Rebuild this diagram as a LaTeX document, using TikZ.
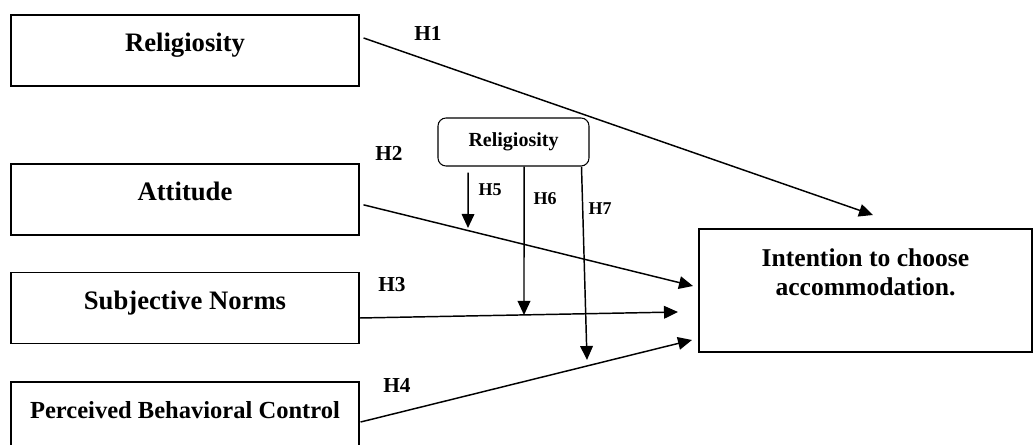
\documentclass[tikz,border=0pt]{standalone}
\usepackage{fontspec}
\setmainfont{Liberation Serif}
\usetikzlibrary{arrows.meta}

\tikzset{
  factor/.style={draw, line width=0.8pt, minimum width=261pt, minimum height=53.25pt,
    inner sep=0pt, font=\bfseries\fontsize{20}{24}\selectfont, text height=14pt, text depth=12pt},
  moder/.style={draw, line width=0.8pt, rounded corners=6pt, minimum width=113.25pt,
    minimum height=36pt, font=\bfseries\fontsize{15}{18}\selectfont},
  hyp/.style={font=\bfseries\fontsize{16}{19}\selectfont},
  hypsmall/.style={font=\bfseries\fontsize{13.5}{16}\selectfont},
  arr/.style={-{Triangle[length=10.5pt,width=9.5pt]}, line width=1.1pt}
}

\begin{document}
\begin{tikzpicture}[x=0.75pt,y=-0.75pt]
\useasboundingbox (0,0) rectangle (1033,445);

% Left-hand boxes
\node[factor] (rel) at (185,50.5) {Religiosity};
\node[factor] (att) at (185,199.5) {Attitude};
\node[factor] (sn) at (185,308) {Subjective Norms};
\node[factor, font=\bfseries\fontsize{18.4}{22}\selectfont] (pbc) at (185,417.5) {Perceived Behavioral Control};

% Outcome box
\node[draw, line width=0.8pt, minimum width=249.75pt, minimum height=92.25pt] (int) at (865.5,290.5) {};
\node[font=\bfseries\fontsize{19.2}{22}\selectfont, align=center] (inttext) at (865.5,272.5) {Intention to choose\\accommodation.};

% Moderator
\node[moder] (mod) at (513.5,142) {Religiosity};

% arrow ends
\coordinate (t1) at (873,215);
\coordinate (t2) at (693,286);
\coordinate (t3) at (678,312);
\coordinate (t4) at (692,340);
\coordinate (t5) at (468,228);
\coordinate (t6) at (524,315);
\coordinate (t7) at (587,360);

% direct paths
\draw[arr] ([xshift=3pt,yshift=9.4pt]rel.east) -- (t1);
\draw[arr] ([xshift=3pt,yshift=-4pt]att.east) -- (t2);
\draw[arr] ([yshift=-7.5pt]sn.east) -- (t3);
\draw[arr] ([xshift=0.75pt,yshift=-3.4pt]pbc.east) -- (t4);

% moderating paths
\draw[arr] ([xshift=-34pt,yshift=-4.5pt]mod.south) -- (t5);
\draw[arr] ([xshift=7.9pt]mod.south) -- (t6);
\draw[arr] ([xshift=51pt]mod.south) -- (t7);

% hypothesis labels
\node[hyp] (h1) at (428,33) {H1};
\node[hyp] (h2) at (389,153) {H2};
\node[hyp] (h3) at (392,285) {H3};
\node[hyp] (h4) at (397,385) {H4};
\node[hypsmall] (h5) at (490,190) {H5};
\node[hypsmall] (h6) at (545,199) {H6};
\node[hypsmall] (h7) at (600,209) {H7};
\end{tikzpicture}
\end{document}
